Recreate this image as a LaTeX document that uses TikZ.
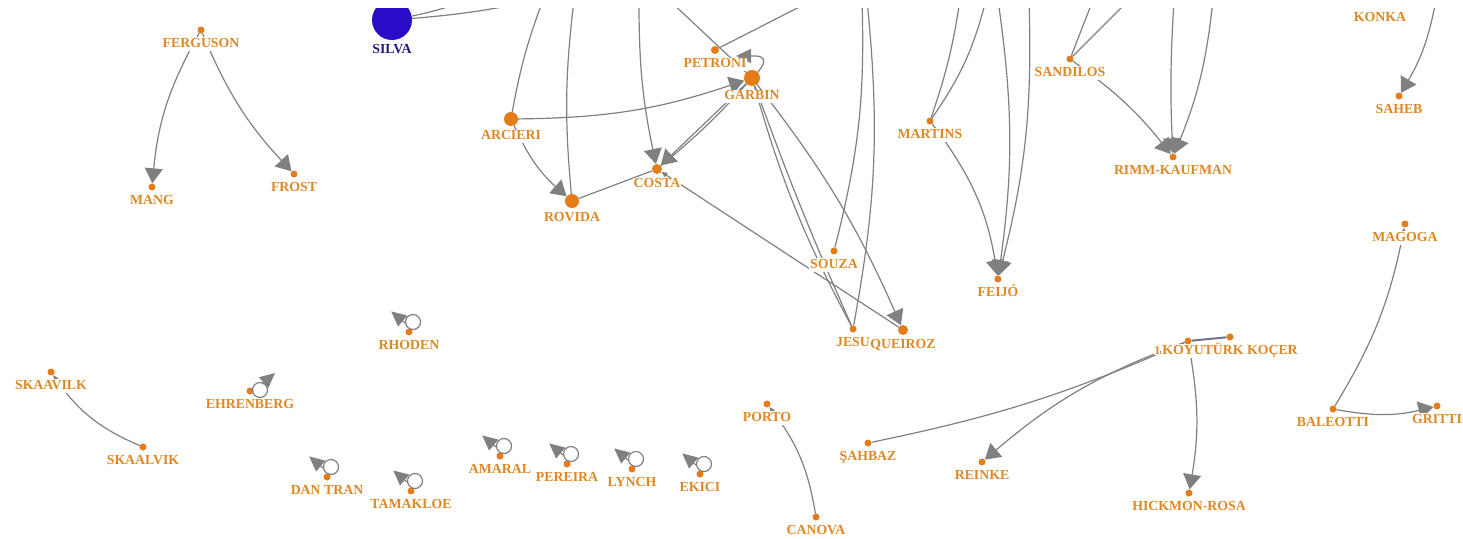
\documentclass[tikz,border=0pt]{standalone}
\usepackage{fontspec}
\setmainfont{Liberation Serif}
\usetikzlibrary{arrows.meta, positioning, calc}
\definecolor{NodeOrange}{RGB}{228,124,26}
\definecolor{LabelOrange}{RGB}{222,136,38}
\definecolor{SilvaBlue}{RGB}{42,12,200}
\definecolor{SilvaText}{RGB}{42,22,130}
\definecolor{EdgeGray}{RGB}{128,128,128}

\begin{document}
\begin{tikzpicture}[x=1pt, y=1pt,
        dot/.style={circle, fill=NodeOrange, inner sep=0pt, minimum size=7pt},
        middot/.style={dot, minimum size=10pt},
        bigdot/.style={dot, minimum size=14pt},
        lbl/.style={fill=white, text=LabelOrange, inner sep=1pt, text height=9pt, text depth=2.5pt, font=\bfseries\fontsize{13.8}{14}\selectfont},
        edge/.style={draw=EdgeGray, line width=1.2pt},
        arrow/.style={edge, -{Triangle[length=15pt, width=18pt]}},
        tiny arrow/.style={edge, -{Triangle[length=6pt, width=5pt]}},
        loop tip/.style={edge, -{Triangle[length=15pt, width=14pt]}}
    ]
        \useasboundingbox (0,0) rectangle (1463,-538);
        \clip (0,-8) rectangle (1463,-538);

        % Nodes
        \node[circle, fill=SilvaBlue, inner sep=0pt, minimum size=40pt] (silva) at (392,-20) {};
        \node[dot] (ferguson) at (201,-30) {};
        \node[dot] (mang) at (152,-187) {};
        \node[dot] (frost) at (294,-174) {};
        \node[dot, minimum size=8pt] (petroni) at (715,-50) {};
        \node[dot, minimum size=16pt] (garbin) at (752,-78) {};
        \node[bigdot] (arcieri) at (511,-119) {};
        \node[bigdot] (rovida) at (572,-201) {};
        \node[middot] (costa) at (657,-169) {};
        \node[dot] (souza) at (834,-251) {};
        \node[dot] (jesu) at (853,-329) {};
        \node[middot] (queiroz) at (903,-330) {};
        \node[dot] (martins) at (930,-121) {};
        \node[dot] (feijo) at (998,-279) {};
        \node[dot] (sandilos) at (1070,-59) {};
        \node[dot] (rimm) at (1173,-157) {};
        \node[dot] (konka) at (1380,-4) {};
        \node[dot] (saheb) at (1399,-96) {};
        \node[dot] (magoga) at (1405,-224) {};
        \node[dot] (baleotti) at (1333,-409) {};
        \node[dot] (gritti) at (1437,-406) {};
        \node[dot] (koyb) at (1188,-341) {};
        \node[dot] (koy) at (1230,-337) {};
        \node[dot] (sahbaz) at (868,-443) {};
        \node[dot] (reinke) at (982,-462) {};
        \node[dot] (hickmon) at (1189,-493) {};
        \node[dot] (porto) at (767,-404) {};
        \node[dot] (canova) at (816,-517) {};
        \node[dot] (skaavilk) at (51,-372) {};
        \node[dot] (skaalvik) at (143,-447) {};
        \node[dot] (rhoden) at (409,-332) {};
        \node[dot] (ehrenberg) at (250,-391) {};
        \node[dot] (dantran) at (327,-477) {};
        \node[dot] (tamakloe) at (411,-491) {};
        \node[dot] (amaral) at (500,-456) {};
        \node[dot] (pereira) at (567,-464) {};
        \node[dot] (lynch) at (632,-469) {};
        \node[dot] (ekici) at (700,-474) {};

        % Loose ends leaving the top
        \coordinate (silvaA) at (460,-3);
        \coordinate (silvaB) at (524,-3);
        \coordinate (top1) at (543,0);
        \coordinate (top2) at (574,0);
        \coordinate (top3) at (639,0);
        \coordinate (top4) at (669,0);
        \coordinate (top5) at (813,0);
        \coordinate (top6) at (862,0);
        \coordinate (top7) at (867,0);
        \coordinate (top8) at (960,0);
        \coordinate (top9) at (986,0);
        \coordinate (top10) at (998,0);
        \coordinate (top11) at (1029,0);
        \coordinate (top12) at (1093,0);
        \coordinate (top13) at (1129,0);
        \coordinate (top14) at (1174,0);
        \coordinate (top15) at (1213,0);
        \coordinate (top16) at (1436,0);
        \coordinate (garbinloop) at (736,-56);

        % Left groups
        \draw[arrow] (ferguson) to[bend right=12] (mang);
        \draw[arrow] (ferguson) to[bend right=10] (frost);
        \draw[tiny arrow] (skaalvik) to[bend left=16] (skaavilk);
        \draw[tiny arrow] (canova) to[bend right=14] (porto);

        % Centre cluster
        \draw[edge] (silva) to[bend right=3] (silvaA);
        \draw[edge] (silva) to[bend right=3] (silvaB);
        \draw[edge] (top1) to[bend right=5] (arcieri);
        \draw[edge] (top2) to[bend right=6] (rovida);
        \draw[arrow] (top3) to[bend right=6] (costa);
        \draw[edge] (top4) -- (garbin);
        \draw[edge] (top5) -- (petroni);
        \draw[arrow] (arcieri) to[bend right=9] (garbin);
        \draw[arrow] (arcieri) to[bend right=12] (rovida);
        \draw[edge] (rovida) -- (costa);
        \draw[arrow] (garbin) -- (costa);
        \draw[edge] (garbin) to[bend left=4] (costa);
        \draw[tiny arrow] (queiroz) -- (costa);
        \draw[edge] (garbin) to[bend right=2] (jesu);
        \draw[edge] (garbin) to[bend right=6] (jesu);
        \draw[arrow] (garbin) to[bend left=7] (queiroz);
        \draw[edge] (souza) to[bend right=8] (top6);
        \draw[edge] (jesu) to[bend right=8] (top7);
        \draw[loop tip] (garbin.north east) .. controls +(50:24pt) and +(0:18pt) .. (garbinloop);

        % Right clusters
        \draw[edge] (martins) to[bend right=5] (top8);
        \draw[edge] (martins) to[bend right=10] (top9);
        \draw[arrow] (martins) to[bend left=14] (feijo);
        \draw[arrow] (top10) to[bend left=8] (feijo);
        \draw[arrow] (top11) to[bend left=8] (feijo);
        \draw[edge] (sandilos) -- (top12);
        \draw[edge] (sandilos) -- (top13);
        \draw[arrow] (sandilos) to[bend left=8] (rimm);
        \draw[arrow] (top14) to[bend right=3] (rimm);
        \draw[arrow] (top15) to[bend left=8] (rimm);
        \draw[arrow] (top16) to[bend left=10] (saheb);
        \draw[tiny arrow] (baleotti) to[bend right=10] (magoga);
        \draw[arrow] (baleotti) to[bend right=12] (gritti);
        \draw[edge] (sahbaz) to[bend right=6] (koyb);
        \draw[arrow] (koyb) to[bend right=10] (reinke);
        \draw[arrow] (koyb) to[bend left=10] (hickmon);
        \draw[edge, line width=2pt, draw=EdgeGray!90!blue] (koyb) -- (koy);

        % Self loops
        \foreach \n in {rhoden, dantran, tamakloe, amaral, pereira, lynch, ekici}{
            \draw[edge] ([xshift=4pt, yshift=10pt]\n.center) circle (7.5pt);
            \draw[loop tip] ([xshift=-4pt, yshift=9pt]\n.center) -- ++(140:18pt);
        }
        \draw[edge] ([xshift=10pt, yshift=1pt]ehrenberg.center) circle (7.5pt);
        \draw[loop tip] ([xshift=12pt, yshift=7pt]ehrenberg.center) -- ++(40:17pt);

        % Labels
        \node[lbl, text=SilvaText, below=3.5pt of silva] (lsilva) {SILVA};
        \node[lbl, below=3.5pt of ferguson] (lferguson) {FERGUSON};
        \node[lbl, below=3.5pt of mang] (lmang) {MANG};
        \node[lbl, below=3.5pt of frost] (lfrost) {FROST};
        \node[lbl, below=3.5pt of petroni] (lpetroni) {PETRONI};
        \node[lbl, below=3.5pt of garbin] (lgarbin) {GARBIN};
        \node[lbl, below=3.5pt of arcieri] (larcieri) {ARCIERI};
        \node[lbl, below=3.5pt of rovida] (lrovida) {ROVIDA};
        \node[lbl, below=3.5pt of costa] (lcosta) {COSTA};
        \node[lbl, below=3.5pt of souza] (lsouza) {SOUZA};
        \node[lbl, below=3.5pt of jesu] (ljesu) {JESU};
        \node[lbl, below=3.5pt of queiroz] (lqueiroz) {QUEIROZ};
        \node[lbl, below=3.5pt of martins] (lmartins) {MARTINS};
        \node[lbl, below=3.5pt of feijo] (lfeijo) {FEIJÓ};
        \node[lbl, below=3.5pt of sandilos] (lsandilos) {SANDILOS};
        \node[lbl, below=3.5pt of rimm] (lrimm) {RIMM-KAUFMAN};
        \node[lbl, below=3.5pt of konka] (lkonka) {KONKA};
        \node[lbl, below=3.5pt of saheb] (lsaheb) {SAHEB};
        \node[lbl, below=3.5pt of magoga] (lmagoga) {MAGOGA};
        \node[lbl, below=3.5pt of baleotti] (lbaleotti) {BALEOTTI};
        \node[lbl, below=3.5pt of gritti] (lgritti) {GRITTI};
        \node[lbl, below=3.5pt of koy] (lkoy) {KOYUTÜRK KOÇER};
        \node[lbl, inner sep=0pt, font=\bfseries\fontsize{12}{12}\selectfont, text height=8pt, text depth=0pt, anchor=south east] (lkoyb) at ([xshift=-0.5pt, yshift=3pt]lkoy.south west) {1};
        \node[lbl, below=3.5pt of sahbaz] (lsahbaz) {ŞAHBAZ};
        \node[lbl, below=3.5pt of reinke] (lreinke) {REINKE};
        \node[lbl, below=3.5pt of hickmon] (lhickmon) {HICKMON-ROSA};
        \node[lbl, below=3.5pt of porto] (lporto) {PORTO};
        \node[lbl, below=3.5pt of canova] (lcanova) {CANOVA};
        \node[lbl, below=3.5pt of skaavilk] (lskaavilk) {SKAAVILK};
        \node[lbl, below=3.5pt of skaalvik] (lskaalvik) {SKAALVIK};
        \node[lbl, below=3.5pt of rhoden] (lrhoden) {RHODEN};
        \node[lbl, below=3.5pt of ehrenberg] (lehrenberg) {EHRENBERG};
        \node[lbl, below=3.5pt of dantran] (ldantran) {DAN TRAN};
        \node[lbl, below=3.5pt of tamakloe] (ltamakloe) {TAMAKLOE};
        \node[lbl, below=3.5pt of amaral] (lamaral) {AMARAL};
        \node[lbl, below=3.5pt of pereira] (lpereira) {PEREIRA};
        \node[lbl, below=3.5pt of lynch] (llynch) {LYNCH};
        \node[lbl, below=3.5pt of ekici] (lekici) {EKICI};
    \end{tikzpicture}
\end{document}
